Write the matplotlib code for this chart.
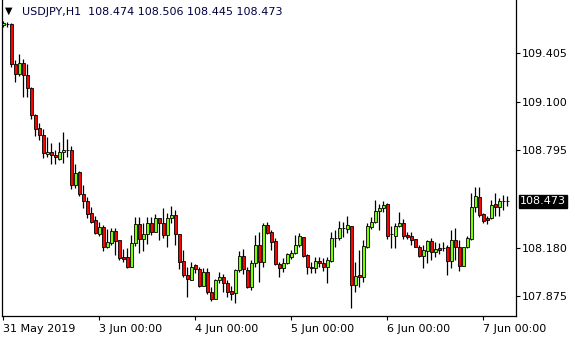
import matplotlib
matplotlib.use("Agg")
import matplotlib.pyplot as plt
import numpy as np

# USDJPY hourly bars, starting 31 May 2019 00:00
symbol = "USDJPY,H1"

opens = [109.583, 109.589, 109.589, 109.337, 109.275, 109.344, 109.268, 109.186, 109.017, 108.935,
         108.891, 108.771, 108.784, 108.765, 108.740, 108.784, 108.797, 108.797, 108.576, 108.658,
         108.520, 108.476, 108.400, 108.356, 108.268, 108.312, 108.186, 108.212, 108.287, 108.230,
         108.123, 108.123, 108.061, 108.212, 108.331, 108.237, 108.268, 108.337, 108.281, 108.369,
         108.337, 108.262, 108.369, 108.388, 108.268, 108.098, 108.010, 107.979, 108.073, 108.048,
         107.941, 108.029, 107.903, 107.859, 107.979, 107.998, 107.960, 107.909, 107.897, 108.042,
         108.130, 108.042, 107.935, 108.086, 108.199, 108.092, 108.325, 108.281, 108.224, 108.079,
         108.054, 108.086, 108.123, 108.149, 108.199, 108.249, 108.136, 108.061, 108.054, 108.098,
         108.086, 108.061, 108.098, 108.243, 108.243, 108.306, 108.300, 108.318, 107.947, 108.010,
         107.998, 108.186, 108.312, 108.344, 108.413, 108.432, 108.457, 108.268, 108.256, 108.318,
         108.337, 108.262, 108.256, 108.237, 108.186, 108.130, 108.161, 108.224, 108.155, 108.180,
         108.180, 108.186, 108.098, 108.230, 108.186, 108.067, 108.186, 108.237, 108.438, 108.501,
         108.394, 108.369, 108.369, 108.457, 108.438, 108.476, 108.474]

highs = [109.608, 109.602, 109.595, 109.363, 109.400, 109.369, 109.337, 109.190, 109.020, 108.966,
         108.929, 108.878, 108.841, 108.797, 108.847, 108.910, 108.866, 108.822, 108.708, 108.664,
         108.576, 108.501, 108.438, 108.381, 108.344, 108.325, 108.300, 108.306, 108.306, 108.232,
         108.174, 108.180, 108.262, 108.375, 108.375, 108.337, 108.375, 108.375, 108.394, 108.371,
         108.432, 108.400, 108.444, 108.419, 108.270, 108.168, 108.061, 108.092, 108.079, 108.061,
         108.054, 108.054, 107.935, 107.985, 108.029, 108.017, 107.979, 107.941, 108.048, 108.161,
         108.174, 108.061, 108.105, 108.262, 108.281, 108.337, 108.344, 108.293, 108.243, 108.092,
         108.117, 108.149, 108.168, 108.262, 108.274, 108.251, 108.142, 108.092, 108.123, 108.123,
         108.117, 108.123, 108.281, 108.293, 108.350, 108.344, 108.381, 108.321, 108.092, 108.168,
         108.230, 108.337, 108.375, 108.482, 108.457, 108.476, 108.460, 108.318, 108.337, 108.407,
         108.362, 108.281, 108.281, 108.239, 108.199, 108.199, 108.230, 108.243, 108.218, 108.212,
         108.218, 108.199, 108.293, 108.306, 108.230, 108.188, 108.256, 108.526, 108.564, 108.564,
         108.400, 108.381, 108.482, 108.526, 108.495, 108.513, 108.506]

lows = [109.570, 109.570, 109.319, 109.224, 109.262, 109.130, 109.130, 108.991, 108.885, 108.859,
        108.746, 108.752, 108.708, 108.708, 108.734, 108.715, 108.752, 108.551, 108.557, 108.507,
        108.432, 108.369, 108.337, 108.270, 108.256, 108.161, 108.182, 108.199, 108.136, 108.105,
        108.092, 108.054, 108.058, 108.193, 108.149, 108.161, 108.205, 108.262, 108.278, 108.230,
        108.243, 108.186, 108.337, 108.199, 108.048, 107.998, 107.872, 107.976, 108.023, 107.935,
        107.938, 107.891, 107.847, 107.856, 107.960, 107.903, 107.872, 107.853, 107.834, 108.029,
        108.017, 107.928, 107.916, 108.061, 107.966, 108.061, 108.270, 108.168, 108.073, 107.998,
        108.029, 108.079, 108.111, 108.142, 108.186, 108.123, 108.017, 108.023, 108.023, 108.061,
        108.035, 107.960, 108.092, 108.186, 108.230, 108.249, 108.274, 107.803, 107.903, 107.935,
        107.966, 108.180, 108.300, 108.337, 108.293, 108.407, 108.237, 108.180, 108.180, 108.312,
        108.237, 108.237, 108.199, 108.184, 108.123, 108.054, 108.086, 108.105, 108.123, 108.142,
        108.161, 108.010, 108.054, 108.105, 108.035, 108.064, 108.180, 108.230, 108.407, 108.375,
        108.337, 108.331, 108.362, 108.381, 108.381, 108.419, 108.445]

closes = [109.595, 109.590, 109.337, 109.275, 109.344, 109.268, 109.186, 109.017, 108.929, 108.891,
          108.778, 108.784, 108.765, 108.752, 108.784, 108.797, 108.796, 108.576, 108.652, 108.520,
          108.476, 108.394, 108.344, 108.274, 108.312, 108.186, 108.218, 108.287, 108.224, 108.117,
          108.111, 108.061, 108.212, 108.331, 108.237, 108.268, 108.337, 108.281, 108.369, 108.337,
          108.262, 108.369, 108.388, 108.268, 108.092, 108.010, 107.985, 108.061, 108.048, 107.941,
          108.029, 107.903, 107.859, 107.979, 107.998, 107.960, 107.903, 107.891, 108.042, 108.130,
          108.048, 107.935, 108.086, 108.199, 108.092, 108.325, 108.274, 108.218, 108.079, 108.054,
          108.086, 108.142, 108.149, 108.199, 108.256, 108.130, 108.061, 108.056, 108.098, 108.086,
          108.061, 108.105, 108.243, 108.245, 108.306, 108.308, 108.325, 107.947, 108.004, 107.998,
          108.193, 108.318, 108.344, 108.413, 108.432, 108.451, 108.256, 108.266, 108.318, 108.337,
          108.256, 108.249, 108.230, 108.186, 108.130, 108.168, 108.224, 108.155, 108.174, 108.168,
          108.178, 108.098, 108.230, 108.186, 108.067, 108.186, 108.243, 108.438, 108.507, 108.388,
          108.350, 108.356, 108.451, 108.438, 108.476, 108.474, 108.473]

# one label per trading day (24 bars)
day_ticks = [0, 24, 48, 72, 96, 120]
day_labels = ["31 May 2019", "3 Jun 00:00", "4 Jun 00:00", "5 Jun 00:00", "6 Jun 00:00", "7 Jun 00:00"]
price_ticks = [109.405, 109.100, 108.795, 108.180, 107.875]

plt.rcParams['font.family'] = ['DejaVu Sans']
plt.rcParams['font.size'] = 8

fig = plt.figure(figsize=(5.8, 3.4), dpi=100)
ax = fig.add_axes([2 / 580, 24 / 340, 514 / 580, 316 / 340])

o = np.array(opens)
c = np.array(closes)
x = np.arange(len(o))
up = c >= o

# wicks then bodies
ax.vlines(x, lows, highs, color='black', linewidth=0.9, zorder=2)
body_colors = ['#7cfc00' if u else '#ff0000' for u in up]
ax.bar(x, np.abs(c - o), bottom=np.minimum(o, c), width=0.68,
       color=body_colors, edgecolor='black', linewidth=0.6, zorder=3)

ax.set_xlim(-0.33, 128.2)
ax.set_ylim(107.752, 109.740)

ax.spines['top'].set_visible(False)
for s in ['left', 'bottom', 'right']:
    ax.spines[s].set_linewidth(0.9)

ax.yaxis.tick_right()
ax.set_yticks(price_ticks)
ax.set_yticklabels(["%.3f" % p for p in price_ticks])
ax.tick_params(axis='y', direction='out', length=3, width=0.8, pad=1.5)

ax.set_xticks(day_ticks)
ax.set_xticklabels(day_labels)
for lab in ax.get_xticklabels():
    lab.set_horizontalalignment('left')
ax.tick_params(axis='x', direction='out', length=3, width=0.8, pad=3)

# current price box
ax.annotate("%.3f" % closes[-1], xy=(1, closes[-1]), xycoords=('axes fraction', 'data'),
            xytext=(4, 0), textcoords='offset pixels', ha='left', va='center',
            color='white', fontsize=8,
            bbox=dict(boxstyle='square,pad=0.12', fc='black', ec='black'))

# header line
fig.text(5 / 580, 1 - 11 / 340, "\u25bc", fontsize=7, va='center', ha='left')
header = "%s  %.3f %.3f %.3f %.3f" % (symbol, opens[-1], highs[-1], lows[-1], closes[-1])
fig.text(22 / 580, 1 - 12 / 340, header, va='center', ha='left', fontsize=8, color='#000040')

fig.savefig("out.png", dpi=100)
